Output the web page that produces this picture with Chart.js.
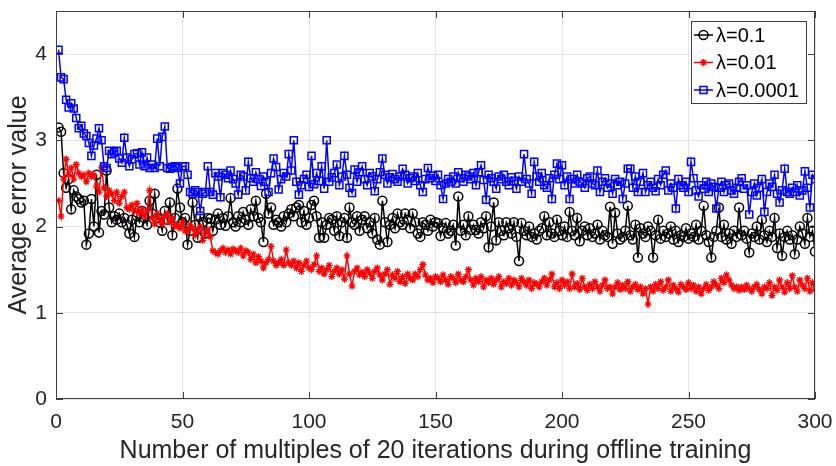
<!DOCTYPE html>
<html>
<head>
<meta charset="utf-8">
<script src="https://cdn.jsdelivr.net/npm/chart.js@4.4.0/dist/chart.umd.min.js"></script>
<style>
  html, body { margin: 0; padding: 0; background: #fff; }
  #wrap { width: 836px; height: 466px; }
</style>
</head>
<body>
<div id="wrap"><canvas id="chart" width="836" height="466"></canvas></div>
<script>
// x positions: multiples of 20 iterations, 1..300
const iterations = Array.from({ length: 300 }, (_, i) => i + 1);

const xTicks = [0, 50, 100, 150, 200, 250, 300];
const yTicks = [0, 1, 2, 3, 4];

const seriesLabels = ['λ=0.1', 'λ=0.01', 'λ=0.0001'];

// λ=0.1 (black, circles)
const lambda01 = [
  3.15, 3.10, 2.62, 2.45, 2.55, 2.20, 2.42, 2.35, 2.32, 2.28,
  2.30, 1.79, 1.92, 2.32, 2.00, 2.60, 1.93, 2.18, 2.14, 2.65,
  2.22, 2.05, 2.12, 2.08, 2.15, 2.05, 2.10, 2.02, 1.92, 2.08,
  1.88, 2.12, 2.05, 2.18, 2.10, 2.02, 2.30, 2.15, 2.38, 2.10,
  2.05, 1.95, 2.18, 2.08, 2.28, 1.90, 2.10, 2.44, 2.22, 2.05,
  2.10, 1.79, 1.95, 2.28, 2.02, 1.87, 2.12, 2.05, 1.92, 2.10,
  2.09, 1.95, 2.08, 2.15, 2.02, 2.10, 2.01, 2.12, 2.33, 2.05,
  2.00, 2.12, 2.05, 2.17, 2.08, 2.02, 2.20, 2.12, 2.30, 2.10,
  2.05, 1.82, 2.38, 2.15, 2.22, 2.02, 2.08, 2.05, 2.00, 2.12,
  2.05, 2.15, 2.20, 2.12, 2.22, 2.25, 2.05, 2.18, 2.02, 2.10,
  2.25, 2.30, 2.12, 1.87, 2.05, 1.87, 2.02, 2.10, 2.08, 1.95,
  2.12, 1.89, 2.05, 2.10, 1.87, 2.22, 2.05, 2.02, 2.12, 1.95,
  2.08, 2.12, 1.98, 2.05, 1.92, 2.10, 1.85, 1.79, 2.30, 2.05,
  1.82, 2.02, 2.10, 1.98, 2.15, 2.05, 2.02, 2.15, 2.08, 1.98,
  2.15, 2.05, 1.92, 1.88, 2.05, 2.02, 1.95, 2.08, 2.00, 2.05,
  2.04, 1.89, 1.98, 2.04, 1.92, 1.95, 2.02, 1.78, 2.35, 1.95,
  2.02, 1.90, 2.12, 1.96, 2.02, 1.96, 1.92, 2.05, 1.98, 2.12,
  1.76, 2.00, 2.28, 1.84, 2.05, 1.95, 1.90, 2.05, 1.98, 1.92,
  2.05, 1.88, 1.60, 2.04, 1.95, 1.90, 2.00, 1.88, 1.92, 1.85,
  1.95, 1.98, 2.12, 1.90, 2.05, 1.92, 1.88, 2.08, 1.95, 1.90,
  2.00, 1.88, 2.17, 1.95, 1.90, 2.10, 1.83, 1.95, 2.00, 1.90,
  1.98, 1.88, 1.92, 2.02, 1.85, 1.95, 1.90, 1.88, 2.23, 1.80,
  2.16, 1.92, 1.85, 1.88, 1.95, 2.24, 1.90, 1.85, 2.02, 1.64,
  1.98, 1.92, 1.88, 2.00, 1.95, 1.64, 1.90, 2.08, 1.86, 1.95,
  1.88, 1.92, 2.00, 1.85, 1.95, 1.82, 1.90, 1.88, 1.98, 1.86,
  1.92, 1.88, 2.02, 1.85, 1.95, 2.24, 1.90, 1.82, 1.64, 1.88,
  1.95, 2.22, 1.88, 2.02, 1.85, 1.92, 1.80, 1.95, 1.88, 2.22,
  1.90, 1.95, 1.86, 1.70, 1.92, 1.88, 2.00, 1.85, 2.08, 1.90,
  1.82, 1.95, 1.88, 2.10, 1.75, 1.92, 1.66, 1.88, 1.95, 1.85,
  1.90, 1.68, 1.85, 2.00, 1.92, 1.80, 2.10, 1.88, 1.95, 1.71
];

// λ=0.01 (red, stars)
const lambda001 = [
  2.30, 2.12, 2.55, 2.78, 2.60, 2.68, 2.55, 2.72, 2.62, 2.58,
  2.60, 2.52, 2.62, 2.58, 2.60, 2.47, 2.40, 2.68, 2.45, 2.35,
  2.42, 2.38, 2.30, 2.40, 2.27, 2.35, 2.40, 2.22, 2.20, 2.25,
  2.18, 2.27, 2.15, 2.20, 2.12, 2.18, 2.42, 2.10, 2.03, 2.15,
  2.08, 2.03, 2.12, 2.15, 2.05, 2.10, 2.00, 2.02, 1.98, 2.05,
  1.95, 1.94, 2.02, 1.98, 1.90, 1.95, 2.00, 1.84, 1.92, 1.96,
  1.88, 1.72, 1.70, 1.68, 1.72, 1.75, 1.70, 1.73, 1.68, 1.74,
  1.72, 1.70, 1.75, 1.66, 1.72, 1.70, 1.62, 1.68, 1.58, 1.65,
  1.60, 1.52, 1.58, 1.62, 1.77, 1.60, 1.55, 1.58, 1.62, 1.55,
  1.73, 1.58, 1.55, 1.60, 1.52, 1.58, 1.48, 1.55, 1.60, 1.52,
  1.50, 1.56, 1.66, 1.48, 1.52, 1.45, 1.50, 1.55, 1.42, 1.48,
  1.52, 1.45, 1.50, 1.39, 1.66, 1.45, 1.31, 1.48, 1.52, 1.44,
  1.47, 1.42, 1.50, 1.46, 1.40, 1.48, 1.52, 1.44, 1.38, 1.45,
  1.50, 1.33, 1.44, 1.40, 1.48, 1.36, 1.42, 1.34, 1.45, 1.40,
  1.38, 1.45, 1.42, 1.50, 1.56, 1.44, 1.38, 1.40, 1.35, 1.42,
  1.40, 1.36, 1.44, 1.38, 1.33, 1.42, 1.40, 1.35, 1.45, 1.38,
  1.36, 1.42, 1.50, 1.38, 1.32, 1.40, 1.36, 1.42, 1.30, 1.38,
  1.35, 1.40, 1.33, 1.38, 1.42, 1.30, 1.36, 1.34, 1.40, 1.32,
  1.38, 1.35, 1.30, 1.40, 1.36, 1.32, 1.38, 1.28, 1.35, 1.33,
  1.30, 1.36, 1.40, 1.32, 1.38, 1.45, 1.30, 1.35, 1.28, 1.38,
  1.32, 1.36, 1.28, 1.45, 1.30, 1.34, 1.27, 1.40, 1.30, 1.26,
  1.33, 1.28, 1.36, 1.30, 1.25, 1.32, 1.38, 1.28, 1.30, 1.22,
  1.30, 1.35, 1.27, 1.32, 1.28, 1.36, 1.25, 1.30, 1.33, 1.27,
  1.30, 1.22, 1.28, 1.10, 1.30, 1.25, 1.33, 1.28, 1.36, 1.26,
  1.30, 1.38, 1.25, 1.32, 1.28, 1.24, 1.33, 1.30, 1.27, 1.35,
  1.28, 1.32, 1.25, 1.30, 1.22, 1.28, 1.33, 1.26, 1.30, 1.36,
  1.32, 1.28, 1.40, 1.35, 1.44, 1.38, 1.32, 1.28, 1.30, 1.26,
  1.30, 1.27, 1.32, 1.28, 1.25, 1.30, 1.33, 1.27, 1.22, 1.30,
  1.28, 1.35, 1.20, 1.30, 1.26, 1.38, 1.30, 1.24, 1.35, 1.28,
  1.43, 1.30, 1.25, 1.38, 1.32, 1.28, 1.40, 1.25, 1.35, 1.27
];

// λ=0.0001 (blue, squares)
const lambda00001 = [
  4.05, 3.73, 3.71, 3.47, 3.38, 3.43, 3.37, 3.26, 3.14, 3.17,
  3.08, 3.05, 2.97, 2.82, 2.94, 3.02, 3.14, 3.00, 2.70, 2.68,
  2.88, 2.84, 2.86, 2.88, 2.79, 2.74, 3.03, 2.80, 2.70, 2.78,
  2.84, 2.85, 2.72, 2.86, 2.70, 2.80, 2.68, 2.72, 2.68, 3.02,
  2.70, 3.04, 3.16, 2.68, 2.67, 2.69, 2.70, 2.68, 2.50, 2.70,
  2.70, 2.60, 2.40, 2.38, 2.42, 2.40, 2.18, 2.38, 2.40, 2.70,
  2.40, 2.37, 2.62, 2.58, 2.34, 2.62, 2.60, 2.56, 2.65, 2.55,
  2.50, 2.37, 2.60, 2.58, 2.42, 2.75, 2.56, 2.52, 2.63, 2.55,
  2.47, 2.58, 2.52, 2.40, 2.62, 2.79, 2.69, 2.43, 2.55, 2.62,
  2.58, 2.84, 2.65, 3.00, 2.52, 2.37, 2.48, 2.55, 2.60, 2.46,
  2.82, 2.49, 2.62, 2.53, 2.70, 2.44, 3.00, 2.52, 2.57, 2.62,
  2.72, 2.48, 2.58, 2.82, 2.60, 2.45, 2.39, 2.66, 2.52, 2.63,
  2.70, 2.55, 2.48, 2.62, 2.58, 2.41, 2.55, 2.63, 2.79, 2.60,
  2.50, 2.57, 2.61, 2.55, 2.52, 2.58, 2.67, 2.60, 2.50, 2.56,
  2.58, 2.53, 2.62, 2.48, 2.40, 2.55, 2.68, 2.56, 2.59, 2.53,
  2.60, 2.48, 2.32, 2.50, 2.55, 2.52, 2.58, 2.50, 2.63, 2.56,
  2.52, 2.60, 2.58, 2.55, 2.62, 2.48, 2.63, 2.71, 2.54, 2.31,
  2.60, 2.56, 2.52, 2.44, 2.58, 2.55, 2.60, 2.52, 2.48, 2.57,
  2.53, 2.44, 2.58, 2.52, 2.84, 2.55, 2.50, 2.38, 2.75, 2.58,
  2.52, 2.62, 2.48, 2.45, 2.56, 2.32, 2.60, 2.73, 2.55, 2.71,
  2.48, 2.58, 2.32, 2.55, 2.50, 2.60, 2.52, 2.50, 2.45, 2.56,
  2.58, 2.50, 2.48, 2.65, 2.40, 2.52, 2.56, 2.45, 2.50, 2.38,
  2.55, 2.48, 2.52, 2.32, 2.50, 2.67, 2.67, 2.45, 2.58, 2.40,
  2.52, 2.62, 2.40, 2.48, 2.52, 2.45, 2.41, 2.55, 2.48, 2.60,
  2.65, 2.42, 2.50, 2.45, 2.21, 2.55, 2.48, 2.45, 2.52, 2.40,
  2.75, 2.56, 2.42, 2.35, 2.48, 2.44, 2.52, 2.40, 2.50, 2.46,
  2.21, 2.45, 2.52, 2.40, 2.48, 2.50, 2.42, 2.38, 2.45, 2.52,
  2.56, 2.44, 2.48, 2.14, 2.40, 2.50, 2.36, 2.45, 2.55, 2.17,
  2.40, 2.50, 2.46, 2.60, 2.38, 2.28, 2.42, 2.67, 2.40, 2.38,
  2.45, 2.40, 2.48, 2.36, 2.42, 2.64, 2.45, 2.22, 2.60, 2.55
];

const FONT = '"Liberation Sans", Arial, Helvetica, sans-serif';
const TEXT = '#262626';
const GRID = '#e3e3e3';

function toPoints(values) {
  return values.map((v, i) => ({ x: iterations[i], y: v }));
}

// box around the axes and inward tick marks, like the original
const axesBox = {
  id: 'axesBox',
  afterDatasetsDraw(chart) {
    const { ctx, chartArea: a, scales } = chart;
    ctx.save();
    ctx.strokeStyle = '#404040';
    ctx.lineWidth = 1;
    ctx.beginPath();
    xTicks.forEach(v => {
      const px = Math.round(scales.x.getPixelForValue(v)) + 0.5;
      ctx.moveTo(px, a.bottom); ctx.lineTo(px, a.bottom - 7);
      ctx.moveTo(px, a.top); ctx.lineTo(px, a.top + 7);
    });
    yTicks.forEach(v => {
      const py = Math.round(scales.y.getPixelForValue(v)) + 0.5;
      ctx.moveTo(a.left, py); ctx.lineTo(a.left + 7, py);
      ctx.moveTo(a.right, py); ctx.lineTo(a.right - 7, py);
    });
    ctx.stroke();
    ctx.strokeRect(Math.round(a.left) + 0.5, Math.round(a.top) + 0.5,
      Math.round(a.width) - 1, Math.round(a.height) - 1);
    ctx.restore();
  }
};

function drawMarker(ctx, style, x, y, r) {
  ctx.beginPath();
  if (style === 'circle') {
    ctx.arc(x, y, r, 0, Math.PI * 2);
  } else if (style === 'rect') {
    const s = r * Math.SQRT1_2;
    ctx.rect(x - s, y - s, 2 * s, 2 * s);
  } else if (style === 'star') {
    const d = r * Math.SQRT1_2;
    ctx.moveTo(x - r, y); ctx.lineTo(x + r, y);
    ctx.moveTo(x, y - r); ctx.lineTo(x, y + r);
    ctx.moveTo(x - d, y - d); ctx.lineTo(x + d, y + d);
    ctx.moveTo(x - d, y + d); ctx.lineTo(x + d, y - d);
  }
  ctx.stroke();
}

// legend box in the upper right corner of the plot
const boxLegend = {
  id: 'boxLegend',
  afterDraw(chart) {
    const { ctx } = chart;
    const left = 691.5, top = 21.5, w = 115, h = 82;
    ctx.save();
    ctx.fillStyle = '#fff';
    ctx.fillRect(left, top, w, h);
    ctx.strokeStyle = '#404040';
    ctx.lineWidth = 1;
    ctx.strokeRect(left, top, w, h);
    [0, 1, 2].forEach((di, k) => {
      const ds = chart.data.datasets[di];
      const y = 35 + k * 27.5;
      ctx.strokeStyle = ds.borderColor;
      ctx.lineWidth = 1.5;
      ctx.beginPath();
      ctx.moveTo(694, y); ctx.lineTo(713, y);
      ctx.stroke();
      drawMarker(ctx, ds.pointStyle, 703.5, y, ds.pointRadius);
      ctx.fillStyle = '#000';
      ctx.font = '20px ' + FONT;
      ctx.textBaseline = 'middle';
      ctx.textAlign = 'left';
      ctx.fillText(ds.label, 716, y + 1);
    });
    ctx.restore();
  }
};

new Chart(document.getElementById('chart'), {
  type: 'line',
  data: {
    datasets: [
      {
        label: seriesLabels[0],
        data: toPoints(lambda01),
        borderColor: '#000000',
        borderWidth: 1.5,
        pointStyle: 'circle',
        pointRadius: 4.5,
        pointBorderWidth: 1.5,
        pointBackgroundColor: 'rgba(0,0,0,0)',
        order: 2
      },
      {
        label: seriesLabels[1],
        data: toPoints(lambda001),
        borderColor: '#ff0000',
        borderWidth: 1.5,
        pointStyle: 'star',
        pointRadius: 3.5,
        pointBorderWidth: 1.3,
        pointBackgroundColor: 'rgba(0,0,0,0)',
        order: 1
      },
      {
        label: seriesLabels[2],
        data: toPoints(lambda00001),
        borderColor: '#0000ff',
        borderWidth: 1.5,
        pointStyle: 'rect',
        pointRadius: 5,
        pointBorderWidth: 1.5,
        pointBackgroundColor: 'rgba(0,0,0,0)',
        order: 0
      }
    ]
  },
  options: {
    responsive: false,
    animation: false,
    events: [],
    layout: { padding: { left: 0, top: 11, right: 21, bottom: 0 } },
    elements: { line: { tension: 0 } },
    plugins: { legend: { display: false }, tooltip: { enabled: false } },
    scales: {
      x: {
        type: 'linear',
        min: 0,
        max: 300,
        afterBuildTicks: s => { s.ticks = xTicks.map(v => ({ value: v })); },
        afterFit: s => { s.height = 67; s.paddingLeft = 0; s.paddingRight = 0; },
        border: { display: false },
        grid: { color: GRID, drawTicks: false },
        ticks: { color: TEXT, font: { family: FONT, size: 21 }, padding: 11, maxRotation: 0 },
        title: {
          display: true,
          text: 'Number of multiples of 20 iterations during offline training',
          color: TEXT,
          font: { family: FONT, size: 25 },
          padding: { top: 0, bottom: 0 }
        }
      },
      y: {
        min: 0,
        max: 4.5,
        afterBuildTicks: s => { s.ticks = yTicks.map(v => ({ value: v })); },
        afterFit: s => { s.width = 56; s.paddingTop = 0; s.paddingBottom = 0; },
        border: { display: false },
        grid: { color: GRID, drawTicks: false },
        ticks: { color: TEXT, font: { family: FONT, size: 21 }, padding: 9 },
        title: {
          display: true,
          text: 'Average error value',
          color: TEXT,
          font: { family: FONT, size: 25 },
          padding: { top: 4, bottom: 0 }
        }
      }
    }
  },
  plugins: [axesBox, boxLegend]
});
</script>
</body>
</html>
